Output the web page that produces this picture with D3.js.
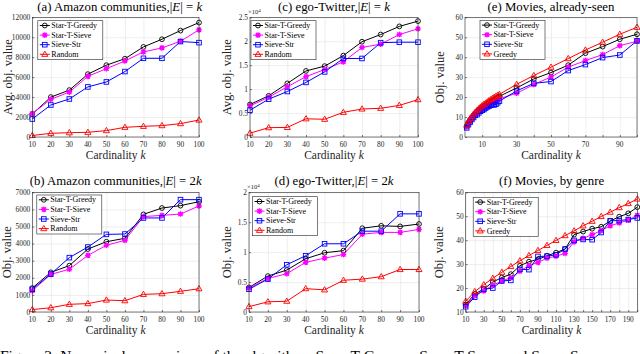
<!DOCTYPE html>
<html><head><meta charset="utf-8">
<script src="https://cdn.jsdelivr.net/npm/d3@7"></script>
<style>body{margin:0;background:#fff}svg{display:block}</style>
</head><body>
<svg id="c" width="640" height="354"></svg>
<script>
// ---------- data ----------
const kStd = [10,20,30,40,50,60,70,80,90,100];
const kMoviesSeen = [1,2,3,4,5,6,7,8,9,10,11,12,13,14,15,16,17,18,19,20,30,40,50,60,70,80,90,100];
const kGenre = [10,20,30,40,50,60,70,80,90,100,110,120,130,140,150,160,170,180,190,200];

const seriesNames4 = ["Star-T-Greedy","Star-T-Sieve","Sieve-Str","Random"];
const seriesNamesMovies = ["Star-T-Greedy","Star-T-Sieve","Sieve-Str","Greedy"];

// (a) Amazon communities, |E| = k
const aGreedy = [2300,4000,4700,6300,7200,7850,9030,9800,10670,11470];
const aSieve  = [2350,3780,4500,6080,6850,7620,8530,8930,9600,10740];
const aSieveStr = [1800,3210,3810,5020,5520,6560,7890,7890,9570,9460];
const aRandom = [150,370,430,470,640,970,1070,1140,1340,1700];

// (c) ego-Twitter, |E| = k
const cGreedy = [6800,8600,11200,13800,14800,17000,19900,21400,23100,24200];
const cSieve  = [6500,8300,10500,12600,14100,15700,18700,19400,21400,22600];
const cSieveStr = [5600,7900,9500,11400,13600,16400,16400,19700,19800,19800];
const cRandom = [800,1950,2000,3800,3700,5150,5850,6000,6600,7800];

// (e) Movies, already-seen
const eGreedy = [6.0,7.8,9.2,10.4,11.5,12.5,13.4,14.2,15.0,15.7,16.4,17.0,17.6,18.2,18.8,19.4,19.9,20.4,20.9,21.4,26.4,30.8,35.0,39.3,43.6,47.5,51.5,55.0];
const eStarGreedy = [5.5,7.3,8.7,9.9,10.9,11.8,12.7,13.5,14.2,14.9,15.5,16.1,16.7,17.3,17.8,18.3,18.8,19.3,19.8,20.4,24.6,29.1,32.3,36.0,42.0,45.3,49.0,51.5];
const eSieve = [5.0,6.8,8.1,9.3,10.3,11.2,12.0,12.8,13.5,14.2,14.8,15.3,15.9,16.4,16.9,17.4,17.8,18.3,18.7,19.2,21.9,26.3,30.1,35.0,38.3,41.3,45.8,48.0];
const eSieveStr = [4.6,6.2,7.5,8.8,9.8,10.9,11.2,12.1,12.9,13.4,13.8,14.5,15.1,15.5,15.9,16.2,16.1,16.4,17.2,18.0,23.1,26.9,27.8,33.3,36.3,39.8,41.1,48.2];

// (b) Amazon communities, |E| = 2k
const bGreedy = [1400,2320,2710,3680,4110,4310,5710,6080,6220,6450];
const bSieve  = [1250,2200,2500,3310,3900,4190,5580,5650,5730,6200];
const bSieveStr = [1330,2220,3180,3800,4540,4560,5500,5500,6570,6570];
const bRandom = [140,250,450,490,700,660,1030,1070,1210,1360];

// (d) ego-Twitter, |E| = 2k
const dGreedy = [4100,6000,7000,8900,9900,10250,14000,14400,14300,14700];
const dSieve  = [4000,5600,6400,8300,9000,9600,13000,13300,13300,13800];
const dSieveStr = [3800,5500,7900,9400,11400,11400,13500,13500,16400,16400];
const dRandom = [900,1700,1800,3900,3700,5300,5500,5900,7100,7100];

// (f) Movies, by genre
const fGreedy = [14.5,18.5,21.4,24.1,26.6,29.0,31.4,33.6,35.7,37.8,39.9,41.9,43.9,46.0,47.9,49.9,51.7,53.6,55.3,57.2];
const fStarGreedy = [13.1,17.5,19.6,22.5,24.4,25.8,29.3,31.0,32.0,33.5,34.8,36.3,42.3,43.6,44.8,45.6,48.0,49.8,51.2,53.8];
const fSieve = [12.6,16.8,18.8,21.2,22.9,24.3,27.0,29.4,30.7,32.5,33.3,34.5,39.3,40.8,42.3,44.0,46.0,47.2,48.4,50.4];
const fSieveStr = [12.2,16.2,19.5,20.0,23.0,23.2,27.8,27.7,33.2,33.3,33.9,36.3,39.9,40.3,40.2,43.2,48.1,48.2,48.6,49.3];

// tick labels
const xTicksStd = [10,20,30,40,50,60,70,80,90,100];
const xTicksSeen = [10,20,30,40,50,60,70,80,90,100];
const xLabelsSeen = [10,30,50,70,90];
const xTicksGenre = [10,20,30,40,50,60,70,80,90,100,110,120,130,140,150,160,170,180,190,200];
const xLabelsGenre = [10,30,50,70,90,110,130,150,170,190];
const yTicksA = [0,2000,4000,6000,8000,10000,12000];
const yTicksC = [0,5000,10000,15000,20000,25000];
const yLabelsC = ["0","0.5","1","1.5","2","2.5"];
const yTicksE = [0,10,20,30,40,50,60];
const yTicksB = [0,1000,2000,3000,4000,5000,6000,7000];
const yTicksD = [0,5000,10000,15000,20000];
const yLabelsD = ["0","0.5","1","1.5","2"];
const yTicksF = [10,20,30,40,50,60];

// ---------- styles ----------
const COL = {greedyStar:"#000000", sieve:"#ff00ff", sieveStr:"#0000ff", red:"#ff0000"};
const FONT = "'Liberation Serif','Times New Roman',serif";

const svg = d3.select("#c");

function marker(g, type, x, y, color) {
  if (type === "circle") {
    g.append("circle").attr("cx",x).attr("cy",y).attr("r",2.4)
      .attr("fill","none").attr("stroke",color).attr("stroke-width",0.9);
  } else if (type === "square") {
    g.append("rect").attr("x",x-2.3).attr("y",y-2.3).attr("width",4.6).attr("height",4.6)
      .attr("fill","none").attr("stroke",color).attr("stroke-width",0.9);
  } else if (type === "tri") {
    const s = 3.2;
    g.append("path").attr("d",`M${x},${y-s}L${x+s*0.95},${y+s*0.65}L${x-s*0.95},${y+s*0.65}Z`)
      .attr("fill","none").attr("stroke",color).attr("stroke-width",0.9);
  } else if (type === "star") {
    const s = 2.8;
    let d = `M${x-s},${y}L${x+s},${y}M${x},${y-s}L${x},${y+s}`;
    const t = s*0.75;
    d += `M${x-t},${y-t}L${x+t},${y+t}M${x-t},${y+t}L${x+t},${y-t}`;
    g.append("path").attr("d",d).attr("stroke",color).attr("stroke-width",1.3).attr("fill","none");
    g.append("rect").attr("x",x-1.6).attr("y",y-1.6).attr("width",3.2).attr("height",3.2).attr("fill",color);
  }
}

function panel(cfg) {
  const {L,R,T,B} = cfg.box;
  const x = d3.scaleLinear().domain(cfg.xDomain).range([L,R]);
  const y = d3.scaleLinear().domain(cfg.yDomain).range([B,T]);
  const g = svg.append("g");
  g.append("rect").attr("x",L).attr("y",T).attr("width",R-L).attr("height",B-T).attr("fill","#fff");
  // grid
  const gx = g.append("g").attr("transform",`translate(0,${B})`)
    .call(d3.axisBottom(x).tickValues(cfg.xTicks).tickSize(-(B-T)).tickFormat(""));
  gx.selectAll("line").attr("stroke","#e3e3e3").attr("stroke-width",0.6);
  gx.select(".domain").remove();
  const gy = g.append("g").attr("transform",`translate(${L},0)`)
    .call(d3.axisLeft(y).tickValues(cfg.yTicks).tickSize(-(R-L)).tickFormat(""));
  gy.selectAll("line").attr("stroke","#e3e3e3").attr("stroke-width",0.6);
  gy.select(".domain").remove();

  // series
  cfg.series.forEach(s => {
    const pts = cfg.xs.map((k,i)=>[x(k), y(s.values[i])]);
    g.append("path").attr("d", d3.line()(pts)).attr("fill","none")
      .attr("stroke",s.color).attr("stroke-width",1);
  });
  cfg.series.forEach(s => {
    const mg = g.append("g");
    cfg.xs.forEach((k,i)=> marker(mg, s.marker, x(k), y(s.values[i]), s.color));
  });

  // box + inward ticks
  g.append("rect").attr("x",L).attr("y",T).attr("width",R-L).attr("height",B-T)
    .attr("fill","none").attr("stroke","#262626").attr("stroke-width",0.6);
  const ax = g.append("g").attr("transform",`translate(0,${B})`)
    .call(d3.axisBottom(x).tickValues(cfg.xTicks).tickSize(-2).tickFormat(""));
  ax.select(".domain").remove(); ax.selectAll("line").attr("stroke","#262626").attr("stroke-width",0.6);
  const ay = g.append("g").attr("transform",`translate(${L},0)`)
    .call(d3.axisLeft(y).tickValues(cfg.yTicks).tickSize(-2).tickFormat(""));
  ay.select(".domain").remove(); ay.selectAll("line").attr("stroke","#262626").attr("stroke-width",0.6);

  // tick labels
  g.append("g").selectAll("text").data(cfg.xLabels).join("text")
    .attr("x",d=>x(d)).attr("y",B+10.2).attr("text-anchor","middle")
    .attr("font-family",FONT).attr("font-size",7.4).attr("fill","#262626").text(d=>d);
  g.append("g").selectAll("text").data(cfg.yTicks).join("text")
    .attr("x",L-2).attr("y",d=>y(d)+2.6).attr("text-anchor","end")
    .attr("font-family",FONT).attr("font-size",7.4).attr("fill","#262626")
    .text((d,i)=>cfg.yLabels ? cfg.yLabels[i] : d);
  if (cfg.exp) {
    const t = g.append("text").attr("x",L-2).attr("y",T-3).attr("font-family",FONT)
      .attr("font-size",6.5).attr("fill","#262626");
    t.append("tspan").text("\u00d710");
    t.append("tspan").attr("dy",-2.5).attr("font-size",5).text("4");
  }

  // title
  const tt = g.append("text").attr("x",(L+R)/2 + (cfg.titleDx||0)).attr("y",cfg.titleY).attr("text-anchor","middle")
    .attr("font-family",FONT).attr("font-size",12.8).attr("fill","#000");
  cfg.titleParts.forEach(p => {
    tt.append("tspan").attr("font-style",p.it?"italic":"normal").text(p.t);
  });

  // axis labels
  const xl = g.append("text").attr("x",(L+R)/2).attr("y",B+21.5).attr("text-anchor","middle")
    .attr("font-family",FONT).attr("font-size",11.5).attr("fill","#262626");
  xl.append("tspan").text("Cardinality ");
  xl.append("tspan").attr("font-style","italic").text("k");
  g.append("text").attr("transform",`translate(${cfg.ylabX},${(T+B)/2}) rotate(-90)`)
    .attr("text-anchor","middle").attr("font-family",FONT).attr("font-size",12.5)
    .attr("fill","#262626").text(cfg.ylab);

  // legend
  const lg = cfg.legend;
  const lx = L + lg.dx, ly = T + lg.dy, lw = 65, lh = 39;
  g.append("rect").attr("x",lx).attr("y",ly).attr("width",lw).attr("height",lh)
    .attr("fill","#fff").attr("stroke","#262626").attr("stroke-width",0.6);
  cfg.series.forEach((s,i)=>{
    const yy = ly + 4.8 + i*9.6;
    g.append("line").attr("x1",lx+2).attr("x2",lx+12).attr("y1",yy).attr("y2",yy)
      .attr("stroke",s.color).attr("stroke-width",1);
    marker(g, s.marker, lx+7, yy, s.color);
    g.append("text").attr("x",lx+13.5).attr("y",yy+2.6).attr("font-family",FONT)
      .attr("font-size",8).attr("fill","#000").text(s.name);
  });
}

function std4(names, v1, v2, v3, v4) {
  return [
    {name:names[0], values:v1, color:COL.greedyStar, marker:"circle"},
    {name:names[1], values:v2, color:COL.sieve, marker:"star"},
    {name:names[2], values:v3, color:COL.sieveStr, marker:"square"},
    {name:names[3], values:v4, color:COL.red, marker:"tri"}
  ];
}
function tp(prefix, suffix) {
  return [{t:prefix,it:false},{t:"E",it:true},{t:"| = "+suffix,it:false},{t:"k",it:true}];
}

const TOPY = 11, BOTY = 185;
panel({box:{L:32.3,R:199,T:17.3,B:137}, xDomain:[10,100], yDomain:[0,12000], xs:kStd,
  xTicks:xTicksStd, xLabels:xTicksStd, yTicks:yTicksA, titleDx:4,
  titleParts:tp("(a) Amazon communities,|",""), titleY:TOPY, ylab:"Avg. obj. value", ylabX:12,
  legend:{dx:5.5,dy:3.4}, series:std4(seriesNames4,aGreedy,aSieve,aSieveStr,aRandom)});
panel({box:{L:250,R:418,T:17.3,B:137}, xDomain:[10,100], yDomain:[0,25000], xs:kStd,
  xTicks:xTicksStd, xLabels:xTicksStd, yTicks:yTicksC, yLabels:yLabelsC, exp:true,
  titleParts:tp("(c) ego-Twitter,|",""), titleY:TOPY, ylab:"Avg. obj. value", ylabX:231,
  legend:{dx:1,dy:3.4}, series:std4(seriesNames4,cGreedy,cSieve,cSieveStr,cRandom)});
panel({box:{L:465,R:637,T:17.3,B:137}, xDomain:[0,100], yDomain:[0,60], xs:kMoviesSeen,
  xTicks:xTicksSeen, xLabels:xLabelsSeen, yTicks:yTicksE,
  titleParts:[{t:"(e) Movies, already-seen",it:false}], titleY:TOPY, ylab:"Obj. value", ylabX:444,
  legend:{dx:15,dy:3}, series:std4(seriesNamesMovies,eStarGreedy,eSieve,eSieveStr,eGreedy)});
panel({box:{L:32.3,R:199,T:192.3,B:312}, xDomain:[10,100], yDomain:[0,7000], xs:kStd,
  xTicks:xTicksStd, xLabels:xTicksStd, yTicks:yTicksB,
  titleParts:tp("(b) Amazon communities,|","2"), titleY:BOTY, ylab:"Obj. value", ylabX:11,
  legend:{dx:4.5,dy:2.7}, series:std4(seriesNames4,bGreedy,bSieve,bSieveStr,bRandom)});
panel({box:{L:249,R:419,T:192.3,B:312}, xDomain:[10,100], yDomain:[0,20000], xs:kStd,
  xTicks:xTicksStd, xLabels:xTicksStd, yTicks:yTicksD, yLabels:yLabelsD, exp:true,
  titleParts:tp("(d) ego-Twitter,|","2"), titleY:BOTY, ylab:"Obj. value", ylabX:231,
  legend:{dx:3.5,dy:4.4}, series:std4(seriesNames4,dGreedy,dSieve,dSieveStr,dRandom)});
panel({box:{L:465.7,R:637.3,T:192.3,B:312}, xDomain:[10,200], yDomain:[10,60], xs:kGenre,
  xTicks:xTicksGenre, xLabels:xLabelsGenre, yTicks:yTicksF,
  titleParts:[{t:"(f) Movies, by genre",it:false}], titleY:BOTY, ylab:"Obj. value", ylabX:443,
  legend:{dx:7.5,dy:5}, series:std4(seriesNamesMovies,fStarGreedy,fSieve,fSieveStr,fGreedy)});

// caption (cut off at bottom, as in the reference)
const cap = svg.append("text").attr("x",0).attr("y",361).attr("font-family",FONT)
  .attr("font-size",15.5).attr("fill","#000");
cap.append("tspan").text("Figure 2: Numerical comparison of the algorithms ");
cap.append("tspan").attr("font-variant","small-caps").text("Star-T-Greedy, Star-T-Sieve");
cap.append("tspan").text(" and ");
cap.append("tspan").attr("font-variant","small-caps").text("Sieve-Str");
</script>
</body></html>
